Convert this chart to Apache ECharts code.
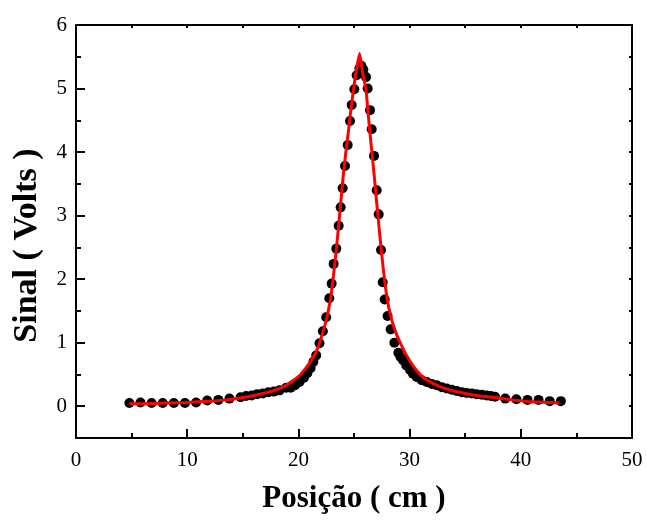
<!DOCTYPE html>
<html>
<head>
<meta charset="utf-8">
<script src="https://cdn.jsdelivr.net/npm/echarts@6/dist/echarts.min.js"></script>
<style>html,body{margin:0;padding:0;background:#fff}#c{width:647px;height:522px}</style>
</head>
<body>
<div id="c"></div>
<script>
// Measured signal (dots): position (cm) and signal (V)
var dotX = [4.8,5.8,6.8,7.8,8.8,9.8,10.8,11.8,12.8,13.8,
  14.8,15.3,15.8,16.3,16.8,17.3,17.8,18.3,18.9,19.3,19.7,20.1,20.5,20.8,21.1,21.35,21.6,21.9,22.2,22.5,
  22.78,22.99,23.17,23.41,23.62,23.8,23.98,24.19,24.43,24.64,24.79,25.03,25.24,25.48,25.66,25.84,26.08,26.23,26.44,26.59,
  26.8,27.04,27.22,27.43,27.58,27.76,28.02,28.3,28.63,28.99,29.2,29.43,29.7,30.04,30.3,30.64,31.1,31.54,32.0,32.44,
  32.9,33.34,33.8,34.24,34.7,35.13,35.6,36.03,36.5,36.93,37.3,37.68,
  38.6,39.6,40.6,41.6,42.6,43.6];
var dotY = [0.05,0.06,0.05,0.05,0.05,0.05,0.06,0.09,0.10,0.12,
  0.14,0.16,0.17,0.19,0.20,0.22,0.23,0.25,0.29,0.29,0.33,0.38,0.45,0.52,0.60,0.70,0.80,0.99,1.18,1.40,
  1.70,1.93,2.24,2.48,2.84,3.13,3.43,3.78,4.11,4.49,4.74,4.99,5.21,5.32,5.36,5.30,5.18,5.00,4.66,4.36,
  3.94,3.40,3.02,2.46,1.95,1.68,1.42,1.21,1.00,0.84,0.77,0.72,0.64,0.57,0.51,0.46,0.41,0.38,0.35,0.33,
  0.30,0.28,0.26,0.24,0.22,0.21,0.20,0.19,0.18,0.17,0.16,0.15,
  0.12,0.11,0.10,0.10,0.08,0.08];
// Fitted curve (red)
var fitX = [4.8,6,8,10,12,13.5,14.75,16,17,18,18.8,19.5,20.2,20.8,21.3,21.7,22.0,22.3,22.6,22.9,23.15,23.4,23.65,23.85,24.05,24.3,24.5,24.7,24.95,25.2,25.5,
  25.75,26.08,26.25,26.44,26.62,26.8,27.0,27.19,27.4,27.64,27.85,28.05,28.3,28.6,28.9,29.2,29.6,30.0,30.5,31.0,31.5,32.1,33.0,34.0,35.0,36.0,37.0,38.0,39.3,41.0,42.5,43.5];
var fitY = [0.04,0.04,0.05,0.06,0.08,0.10,0.13,0.17,0.21,0.26,0.32,0.40,0.50,0.63,0.76,0.90,1.05,1.22,1.43,1.70,2.05,2.45,2.90,3.28,3.66,4.05,4.33,4.64,4.98,5.28,5.55,
  5.28,4.98,4.65,4.29,3.98,3.66,3.28,2.93,2.55,2.15,1.85,1.62,1.42,1.24,1.10,0.98,0.84,0.72,0.59,0.49,0.42,0.36,0.29,0.24,0.20,0.17,0.15,0.13,0.10,0.07,0.06,0.05];
var yMajorTicks = [0,1,2,3,4,5,6];

var dots = dotX.map(function(x,i){return [x, dotY[i]];});
var fit = fitX.map(function(x,i){return [x, fitY[i]];});

var F = 'Liberation Serif, Times New Roman, serif';
var chart = echarts.init(document.getElementById('c'), null, {renderer:'canvas'});
var lineStyle = {color:'#000', width:2};
chart.setOption({
  animation:false,
  backgroundColor:'#fff',
  grid:{left:76, right:15, top:25, bottom:84, containLabel:false},
  xAxis:[
    {type:'value', position:'bottom', min:0, max:50, interval:10,
     axisLine:{show:true, lineStyle:lineStyle, onZero:false},
     axisTick:{show:true, inside:true, length:9, lineStyle:{color:'#000', width:2}},
     minorTick:{show:true, splitNumber:2, length:5, lineStyle:{color:'#000', width:2}},
     axisLabel:{color:'#000', fontFamily:F, fontSize:21, margin:12},
     splitLine:{show:false},
     name:'Posição ( cm )', nameLocation:'middle', nameGap:45,
     nameTextStyle:{color:'#000', fontFamily:F, fontSize:31, fontWeight:'bold'}},
    {type:'value', position:'top', min:0, max:50, interval:5,
     axisLine:{show:true, lineStyle:lineStyle, onZero:false},
     axisTick:{show:true, inside:true, length:3, lineStyle:{color:'#000', width:2}},
     axisLabel:{show:false}, splitLine:{show:false}}
  ],
  yAxis:[
    {type:'value', position:'left', min:-0.5, max:6,
     axisLine:{show:true, lineStyle:lineStyle, onZero:false},
     axisTick:{show:true, inside:true, length:9, customValues:yMajorTicks, lineStyle:{color:'#000', width:2}},
     axisLabel:{color:'#000', fontFamily:F, fontSize:21, margin:9, customValues:yMajorTicks},
     splitLine:{show:false},
     name:'Sinal ( Volts )', nameLocation:'middle', nameGap:32,
     nameTextStyle:{color:'#000', fontFamily:F, fontSize:34, fontWeight:'bold', padding:[0,28,0,0]}},
    {type:'value', position:'left', min:-0.5, max:6, interval:0.5,
     axisLine:{show:false},
     axisTick:{show:true, inside:true, length:5, lineStyle:{color:'#000', width:2}},
     axisLabel:{show:false}, splitLine:{show:false}},
    {type:'value', position:'right', min:-0.5, max:6, interval:0.5,
     axisLine:{show:true, lineStyle:lineStyle, onZero:false},
     axisTick:{show:true, inside:true, length:3, lineStyle:{color:'#000', width:2}},
     axisLabel:{show:false}, splitLine:{show:false}}
  ],
  series:[
    {type:'scatter', data:dots, xAxisIndex:0, yAxisIndex:0, symbol:'circle', symbolSize:10,
     itemStyle:{color:'#000', opacity:1}, z:2},
    {type:'line', data:fit, xAxisIndex:0, yAxisIndex:0, showSymbol:false, symbol:'none', smooth:0.15,
     lineStyle:{color:'#ff0000', width:3}, z:3}
  ]
});
</script>
</body>
</html>
